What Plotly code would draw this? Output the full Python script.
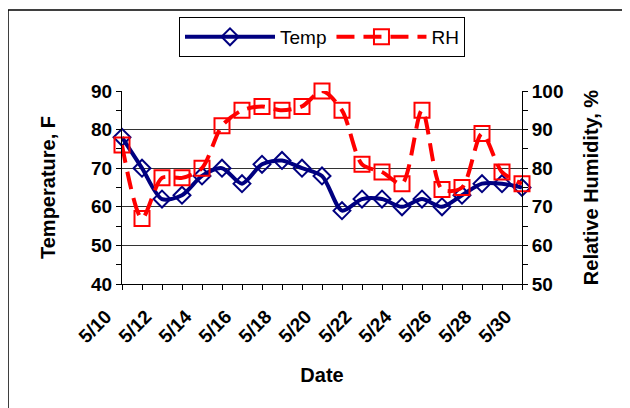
import plotly.graph_objects as go

dates = ["5/10", "5/11", "5/12", "5/13", "5/14", "5/15", "5/16", "5/17", "5/18", "5/19", "5/20",
         "5/21", "5/22", "5/23", "5/24", "5/25", "5/26", "5/27", "5/28", "5/29", "5/30"]
temp = [78, 70, 62, 63, 68, 70, 66, 71, 72, 70, 68, 59, 62, 62, 60, 62, 60, 63, 66, 66, 65]
rh = [86, 67, 77.5, 77.5, 80, 91, 95, 96, 95, 96, 100, 95, 81, 79, 76, 95, 74.5, 75, 89, 79, 76]
label_dates = dates[::2]
tick_text = [d if d in label_dates else "" for d in dates]

FONT = "Liberation Sans"
bold = dict(family=FONT, size=19, color="black", weight="bold")

fig = go.Figure()
fig.add_trace(go.Scatter(
    x=dates, y=temp, name="Temp", mode="lines+markers", cliponaxis=False,
    line=dict(color="#000080", width=4, shape="spline", smoothing=0.8),
    marker=dict(symbol="diamond-open", size=13, color="#000080", line=dict(width=2, color="#000080")),
))
fig.add_trace(go.Scatter(
    x=dates, y=rh, name="RH", mode="lines+markers", yaxis="y2", cliponaxis=False,
    line=dict(color="#FF0000", width=4, dash="18px,9px", shape="spline", smoothing=0.8),
    marker=dict(symbol="square-open", size=15, color="#FF0000", line=dict(width=2, color="#FF0000")),
))

fig.update_layout(
    width=630, height=408,
    margin=dict(l=114, r=116, t=83, b=132),
    paper_bgcolor="white", plot_bgcolor="white",
    font=dict(family=FONT, color="black"),
    showlegend=True,
    legend=dict(orientation="h", x=0.5, xanchor="center", yref="container", y=0.978, yanchor="top",
                bordercolor="black", borderwidth=1, bgcolor="white",
                font=dict(family=FONT, size=19, color="black"),
                itemwidth=90, tracegroupgap=0, valign="middle"),
    xaxis=dict(
        type="category", range=[0, len(dates) - 1],
        tickmode="array", tickvals=dates, ticktext=tick_text, tickangle=-45,
        ticks="outside", ticklen=5, tickcolor="black",
        ticklabelstandoff=8, ticklabelshift=-16,
        showline=True, linecolor="black", linewidth=1, showgrid=False, zeroline=False,
        tickfont=bold,
        title=dict(text="Date", font=dict(family=FONT, size=20, color="black", weight="bold"), standoff=22),
        automargin=False,
    ),
    yaxis=dict(
        range=[40, 90], dtick=10, ticks="outside", ticklen=5, tickcolor="black",
        showline=True, linecolor="black", linewidth=1,
        showgrid=True, gridcolor="#333333", gridwidth=1, zeroline=False,
        minor=dict(dtick=5, ticks="outside", ticklen=5, tickcolor="black", showgrid=False),
        tickfont=bold,
        title=dict(text="Temperature, F", font=dict(family=FONT, size=20, color="black", weight="bold"), standoff=30),
        automargin=False,
    ),
    yaxis2=dict(
        range=[50, 100], dtick=10, overlaying="y", side="right",
        ticks="outside", ticklen=5, tickcolor="black",
        showline=True, linecolor="black", linewidth=1, showgrid=False, zeroline=False,
        minor=dict(dtick=5, ticks="outside", ticklen=5, tickcolor="black", showgrid=False),
        tickfont=bold,
        title=dict(text="Relative Humidity, %", font=dict(family=FONT, size=20, color="black", weight="bold"), standoff=21),
        automargin=False,
    ),
    shapes=[dict(type="rect", xref="paper", yref="paper",
                 x0=(8 - 122) / 400, x1=(650 - 122) / 400,
                 y0=(284 - 430) / 193, y1=1 + (91 - 10) / 193,
                 line=dict(color="black", width=1.5), fillcolor="rgba(0,0,0,0)", layer="below")],
)

fig.write_html("out.html")
